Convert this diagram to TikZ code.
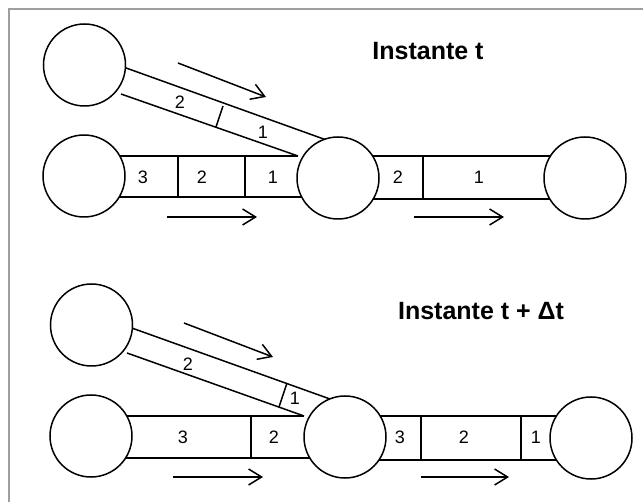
\documentclass[tikz,border=0pt]{standalone}
\usepackage{fontspec}
\setmainfont{Liberation Sans}
\usetikzlibrary{arrows.meta}
\begin{document}
\begin{tikzpicture}[x=1pt,y=-1pt,
  ln/.style={line width=1.5pt,black},
  tank/.style={circle,draw,fill=white,line width=1.5pt,minimum size=82pt,inner sep=0pt},
  num/.style={font=\fontsize{18}{21}\selectfont,inner sep=0pt},
  ttl/.style={font=\fontsize{25}{30}\selectfont\bfseries,inner sep=0pt},
  flow/.style={line width=1.5pt,-{Straight Barb[length=13pt,width=16pt]}}]
\useasboundingbox (0,0) rectangle (643,502);
\draw[line width=2pt,black!38] (8.5,502) -- (8.5,9.5) -- (643,9.5);

% ---------- Instante t ----------
\draw[ln] (110,156) -- (298,156);
\draw[ln] (110,197) -- (320,197);
\draw[ln] (178,156) -- (178,197);
\draw[ln] (245,156) -- (245,197);
\node[num] (t3) at (143,177) {3};
\node[num] (t2) at (202,177) {2};
\node[num] (t1) at (273,177) {1};

\draw[ln] (355,156) -- (570,156);
\draw[ln] (355,199) -- (570,199);
\draw[ln] (423,156) -- (423,199);
\node[num] (u2) at (398,177) {2};
\node[num] (u1) at (479,177) {1};

\draw[ln] (115,64) -- (325,139.5);
\draw[ln] (121,94) -- (298,156);
\draw[ln] (223,106) -- (216,127);
\node[num] (d2) at (180,102) {2};
\node[num] (d1) at (263,132) {1};

\node[tank] (A) at (84.5,65) {};
\node[tank] (B) at (84,176) {};
\node[tank] (C) at (338,178) {};
\node[tank] (D) at (585,178) {};

\coordinate (a1s) at (178,63); \coordinate (a1e) at (266,97);
\coordinate (a2s) at (167,217); \coordinate (a2e) at (257,217);
\coordinate (a3s) at (414,217); \coordinate (a3e) at (504,217);
\draw[flow] (a1s) -- (a1e);
\draw[flow] (a2s) -- (a2e);
\draw[flow] (a3s) -- (a3e);
\node[ttl] (T1) at (428,51) {Instante t};

% ---------- Instante t + Dt ----------
\draw[ln] (115,416) -- (304,416);
\draw[ln] (115,458) -- (330,458);
\draw[ln] (251,416) -- (251,458);
\node[num] (p3) at (183,437) {3};
\node[num] (p2) at (274,437) {2};

\draw[ln] (365,416) -- (575,416);
\draw[ln] (365,460) -- (575,460);
\draw[ln] (421,416) -- (421,460);
\draw[ln] (521,416) -- (521,460);
\node[num] (q3) at (400,437) {3};
\node[num] (q2) at (464,437) {2};
\node[num] (q1) at (536,437) {1};

\draw[ln] (122,324.5) -- (330,399);
\draw[ln] (127,353) -- (304,416);
\draw[ln] (287,383) -- (279,407);
\node[num] (e2) at (188,364) {2};
\node[num] (e1) at (295,398) {1};

\node[tank] (A2) at (91.5,325) {};
\node[tank] (B2) at (91,436) {};
\node[tank] (C2) at (345,437) {};
\node[tank] (D2) at (591,438) {};

\coordinate (b1s) at (184,323); \coordinate (b1e) at (273,357);
\coordinate (b2s) at (173,477); \coordinate (b2e) at (263,477);
\coordinate (b3s) at (421,477); \coordinate (b3e) at (509,477);
\draw[flow] (b1s) -- (b1e);
\draw[flow] (b2s) -- (b2e);
\draw[flow] (b3s) -- (b3e);
\node[ttl] (T2) at (481,311) {Instante t + Δt};
\end{tikzpicture}
\end{document}
